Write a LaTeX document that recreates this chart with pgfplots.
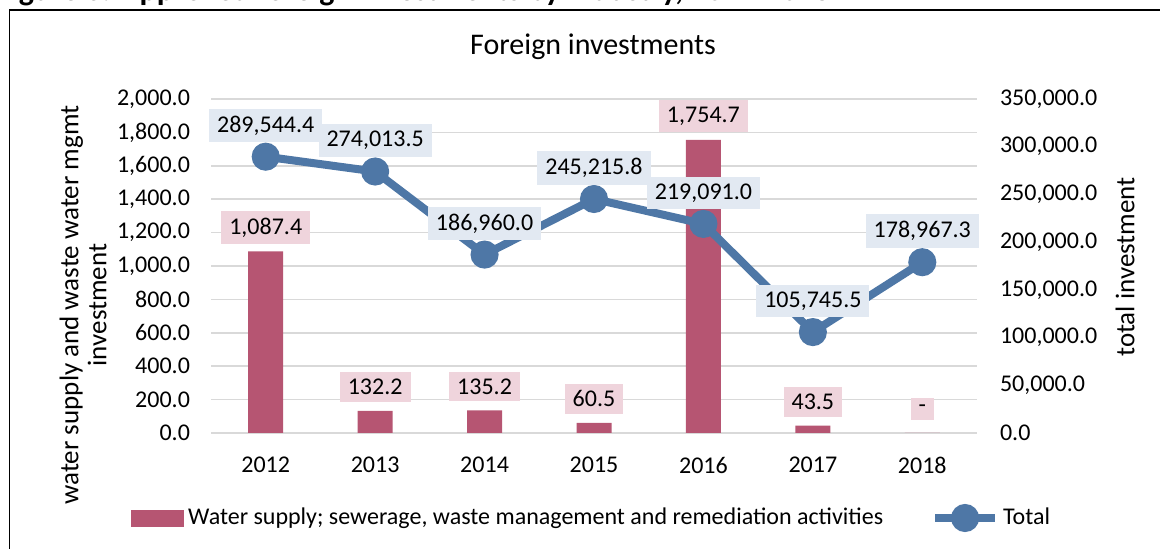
\documentclass[border=0pt]{standalone}
\usepackage{pgfplots}
\pgfplotsset{compat=1.18}
\usepackage{fontspec}
\setmainfont{Carlito}

\definecolor{barcol}{HTML}{B65572}
\definecolor{barlab}{HTML}{EFD4DC}
\definecolor{linecol}{HTML}{4E77A6}
\definecolor{linelab}{HTML}{E2E9F2}
\definecolor{gridcol}{HTML}{D9D9D9}

\newcommand{\lbl}{\fontsize{12}{14}\selectfont}
\newcommand{\atitle}{\fontsize{13.5}{14}\selectfont}

\begin{document}
\begin{tikzpicture}
\useasboundingbox (0,0) rectangle (580pt,274.5pt);

% frame and cut-off figure caption
\draw[line width=0.8pt] (4.75pt,-10pt) -- (4.75pt,269.5pt) -- (600pt,269.5pt);
\node[anchor=base west, inner sep=0pt, font=\bfseries\fontsize{16}{18}\selectfont]
  at (-2pt,274pt) {Figure 6: Approved foreign investments by industry, 2012-2018};

\begin{axis}[
    at={(105.5pt,58pt)}, anchor=south west,
    scale only axis, width=383pt, height=167pt,
    xmin=-0.5, xmax=6.5, ymin=0, ymax=2000,
    xtick={0,...,6},
    xticklabels={2012,2013,2014,2015,2016,2017,2018},
    ytick={0,200,...,2000},
    ymajorgrids,
    grid style={color=gridcol, line width=0.8pt},
    axis line style={draw=none},
    major tick length=0pt,
    clip=false,
    tick label style={font=\lbl},
    xticklabel style={anchor=center, yshift=-16pt},
    yticklabel style={xshift=-7pt,
      /pgf/number format/.cd, fixed, fixed zerofill, precision=1,
      1000 sep={,}, assume math mode=true},
]
\addplot[ybar, bar width=17.5pt, bar shift=0pt, fill=barcol, draw=none,
    point meta=explicit symbolic, nodes near coords,
    nodes near coords style={anchor=center, yshift=12pt, fill=barlab,
      font=\lbl, inner xsep=4pt, inner ysep=3.5pt, text=black}]
  coordinates {(0,1087.4) [1,087.4] (1,132.2) [132.2] (2,135.2) [135.2]
               (3,60.5) [60.5] (4,1754.7) [1,754.7] (5,43.5) [43.5]
               (6,0) [-]};
\end{axis}

\begin{axis}[
    at={(105.5pt,58pt)}, anchor=south west,
    scale only axis, width=383pt, height=167pt,
    xmin=-0.5, xmax=6.5, ymin=0, ymax=350000,
    axis y line*=right, axis x line=none,
    axis line style={draw=none},
    ytick={0,50000,...,350000},
    scaled y ticks=false,
    major tick length=0pt,
    clip=false,
    tick label style={font=\lbl},
    yticklabel style={xshift=8pt,
      /pgf/number format/.cd, fixed, fixed zerofill, precision=1,
      1000 sep={,}, assume math mode=true},
    legend columns=2,
    legend style={at={(-0.1044,-0.2545)}, anchor=west, draw=none, fill=none,
      font=\lbl, inner sep=0pt,
      /tikz/every even column/.append style={column sep=22pt}},
]
\addlegendimage{legend image code/.code={\fill[barcol] (0pt,-4pt) rectangle (26pt,4pt);}}
\addlegendentry{Water supply; sewerage, waste management and remediation activities}
\addplot[linecol, line width=4pt, mark=*, mark size=5pt,
    mark options={solid, fill=linecol, draw=none},
    legend image code/.code={\draw[linecol, line width=4pt] (0pt,0pt) -- (30pt,0pt);
      \fill[linecol] (15pt,0pt) circle (5pt);},
    point meta=explicit symbolic, nodes near coords,
    nodes near coords style={anchor=center, yshift=15.5pt, fill=linelab,
      font=\lbl, inner xsep=4pt, inner ysep=3.5pt, text=black}]
  coordinates {(0,289544.4) [289,544.4] (1,274013.5) [274,013.5]
               (2,186960.0) [186,960.0] (3,245215.8) [245,215.8]
               (4,219091.0) [219,091.0] (5,105745.5) [105,745.5]
               (6,178967.3) [178,967.3]};
\addlegendentry{Total}
\end{axis}

\node[font=\fontsize{15}{17}\selectfont] at (296.5pt,251pt) {Foreign investments};
\node[rotate=90, align=center, font=\atitle, inner sep=0pt] at (41.5pt,122pt)
  {water supply and waste water mgmt\\investment};
\node[rotate=90, font=\atitle, inner sep=0pt] at (562.5pt,141pt) {total investment};
\end{tikzpicture}
\end{document}
